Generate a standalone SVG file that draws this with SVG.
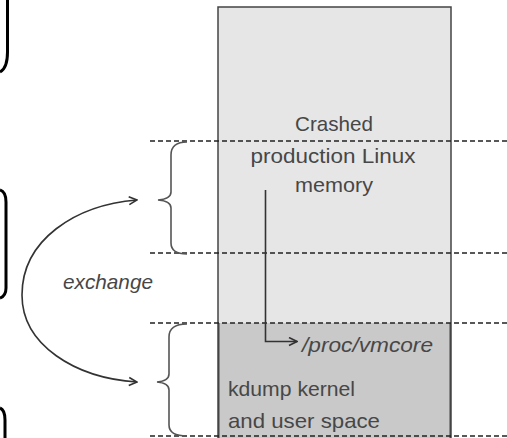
<svg xmlns="http://www.w3.org/2000/svg" width="507" height="438" viewBox="0 0 507 438">
<defs>
<marker id="chev" viewBox="0 0 10 10" refX="9" refY="5" markerWidth="10" markerHeight="10" markerUnits="userSpaceOnUse" orient="auto">
<path d="M1,1 L9,5 L1,9" fill="none" stroke="#333" stroke-width="1.6"/>
</marker>
<style>
.lbl{font-family:"Liberation Sans","DejaVu Sans",sans-serif;font-size:21px;fill:#474747}
.dash{stroke:#222;stroke-width:1.5;stroke-dasharray:5 3;fill:none}
.brace{stroke:#555;stroke-width:1.6;fill:none}
.frag{stroke:#000;stroke-width:3;fill:none}
.conn{stroke:#333;stroke-width:1.6;fill:none}
</style>
</defs>
<rect width="507" height="438" fill="#fff"/>
<g id="left-fragments">
<path class="frag" d="M7.5,0 L7.5,52 Q7.5,68 0,72"/>
<path class="frag" d="M0,190 Q6,192 6,202 L6,288 Q6,296 0,298"/>
<path class="frag" d="M0,408 Q5,410 5,420 L5,438"/>
</g>
<g id="memory">
<rect x="218" y="7" width="233" height="440" fill="#e6e6e6" stroke="#444" stroke-width="1.5"/>
<rect x="218.75" y="323" width="231.5" height="120" fill="#c9c9c9"/>
<line x1="450.25" y1="323" x2="450.25" y2="438" stroke="#444" stroke-width="1.5"/>
<line x1="218.75" y1="323" x2="218.75" y2="438" stroke="#444" stroke-width="1.5"/>
</g>
<g id="dashes">
<line class="dash" x1="150" y1="141" x2="507" y2="141"/>
<line class="dash" x1="150" y1="253" x2="507" y2="253"/>
<line class="dash" x1="150" y1="323" x2="507" y2="323"/>
<line class="dash" x1="150" y1="436" x2="507" y2="436" stroke-width="2.2"/>
</g>
<g id="crashed-label">
<text class="lbl" x="334" y="131" text-anchor="middle" textLength="78" lengthAdjust="spacingAndGlyphs">Crashed</text>
<text class="lbl" x="333" y="163" text-anchor="middle" textLength="165" lengthAdjust="spacingAndGlyphs">production Linux</text>
<text class="lbl" x="334" y="192" text-anchor="middle" textLength="78" lengthAdjust="spacingAndGlyphs">memory</text>
</g>
<g id="kdump-label">
<text class="lbl" x="228" y="396" textLength="127" lengthAdjust="spacingAndGlyphs">kdump kernel</text>
<text class="lbl" x="228" y="428" textLength="152" lengthAdjust="spacingAndGlyphs">and user space</text>
</g>
<g id="vmcore-label">
<text class="lbl" x="302" y="352" textLength="131" lengthAdjust="spacingAndGlyphs" font-style="italic">/proc/vmcore</text>
</g>
<g id="braces">
<path class="brace" d="M187,142 Q171,142 171,155 L171,192 Q171,199 158,200 Q171,201 171,208 L171,243 Q171,254 187,254"/>
<path class="brace" d="M187,324 Q169,324 169,337 L169,374 Q169,381 157,382 Q169,383 169,390 L169,425 Q169,436 187,436"/>
</g>
<g id="exchange-label">
<text class="lbl" x="63" y="289" textLength="90" lengthAdjust="spacingAndGlyphs" font-style="italic">exchange</text>
</g>
<g id="connectors">
<path class="conn" d="M265.5,190 L265.5,341.5 L297,341.5" marker-end="url(#chev)"/>
<path class="conn" d="M22,295 C22,240 75,205 137,200" marker-end="url(#chev)"/>
<path class="conn" d="M22,295 C22,345 75,378 137,382" marker-end="url(#chev)"/>
</g>
</svg>
